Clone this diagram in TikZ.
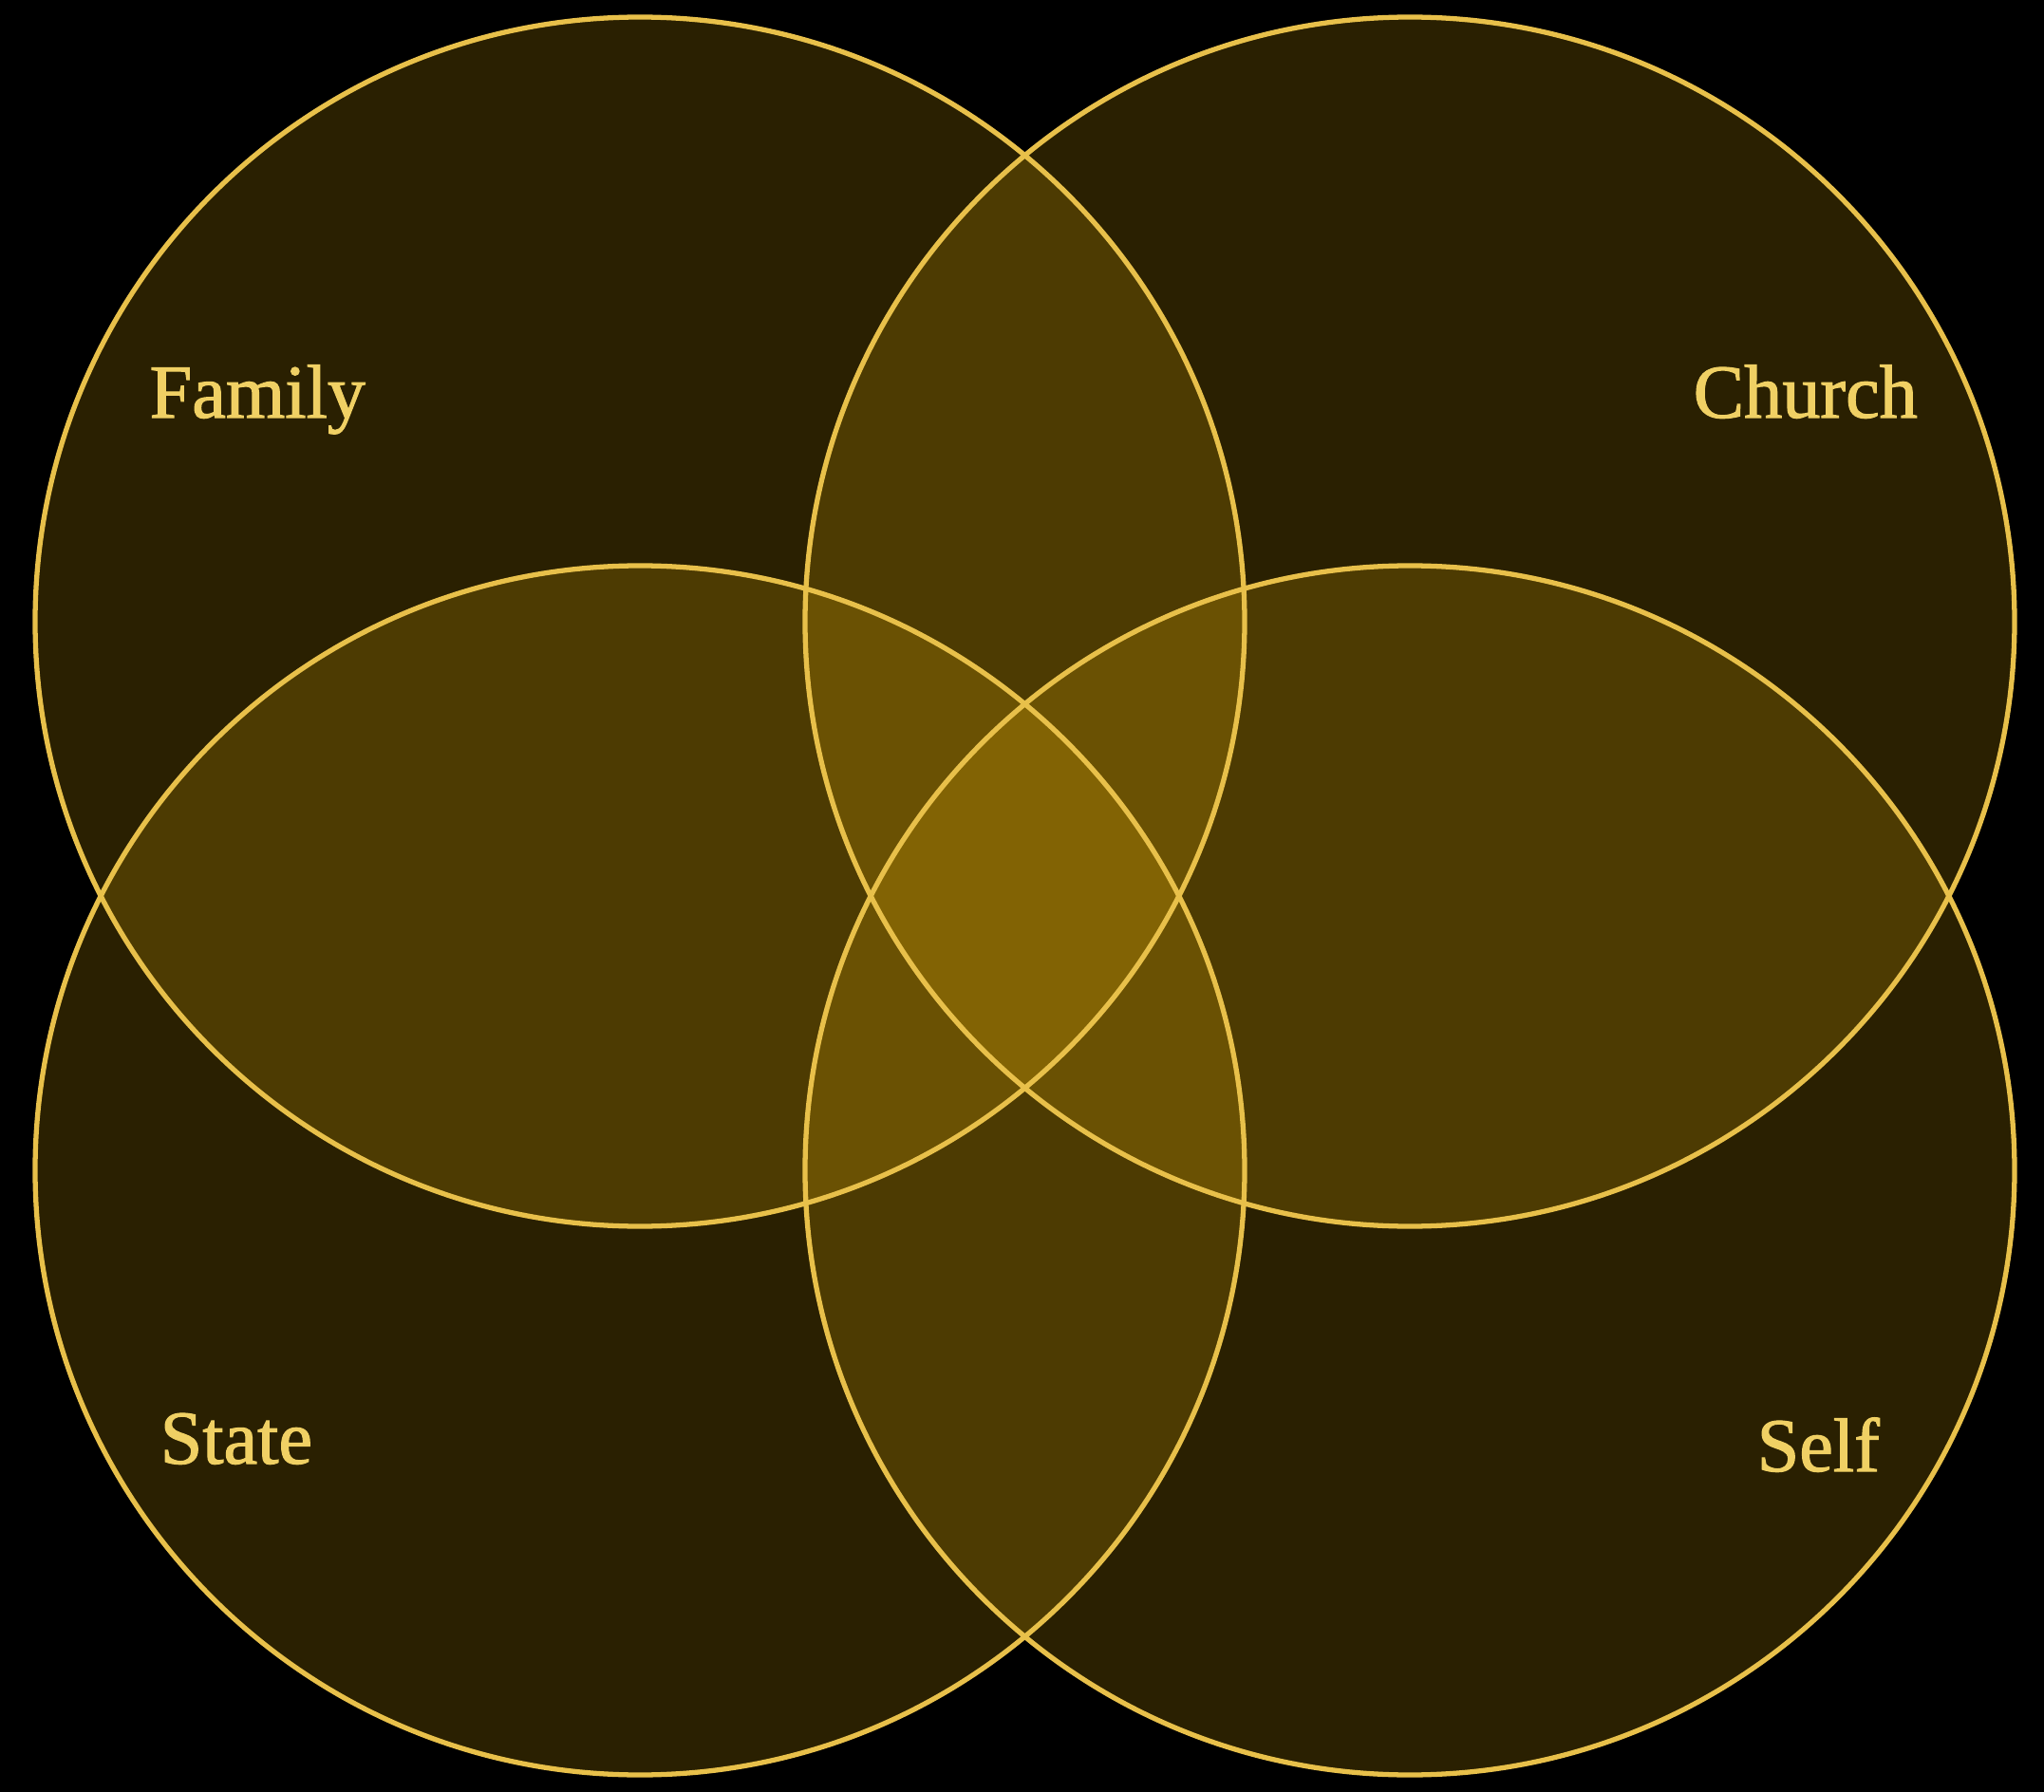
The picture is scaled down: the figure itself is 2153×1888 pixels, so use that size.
\documentclass[tikz,border=0pt]{standalone}
\usepackage{fontspec}
\setmainfont{Liberation Serif}
\newfontfamily\lblfont[FakeBold=1.4]{Liberation Serif}
\definecolor{ringfill}{RGB}{255,196,10}
\definecolor{ringline}{RGB}{232,192,74}
\definecolor{labeltext}{RGB}{240,208,100}
\begin{document}
\begin{tikzpicture}[x=0.01cm,y=-0.01cm,
  ringarea/.style={fill=ringfill,fill opacity=0.165},
  ringedge/.style={draw=ringline,line width=1.5pt},
  lbl/.style={text=labeltext,font=\lblfont\fontsize{22.8pt}{26pt}\selectfont,inner sep=0pt,anchor=base west}]
\fill[black] (0,0) rectangle (2153,1888);
\useasboundingbox (0,0) rectangle (2153,1888);
\coordinate (cTL) at (674,655);
\coordinate (cTR) at (1485,655);
\coordinate (cBL) at (674,1233);
\coordinate (cBR) at (1485,1233);
\foreach \c in {cTL,cTR,cBL,cBR}{\fill[ringarea] (\c) circle[radius=637];}
\foreach \c in {cTL,cTR,cBL,cBR}{\draw[ringedge] (\c) circle[radius=637];}
\node[lbl] (family) at (157,440) {Family};
\node[lbl] (church) at (1783,440) {Church};
\node[lbl] (state) at (168,1542) {State};
\node[lbl] (self) at (1850,1550) {Self};
\end{tikzpicture}
\end{document}
